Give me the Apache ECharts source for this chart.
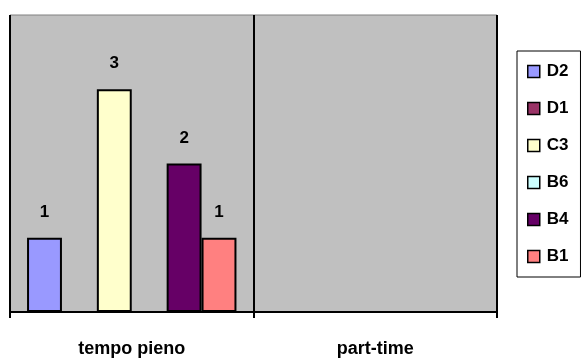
<!DOCTYPE html>
<html>
<head>
<meta charset="utf-8">
<script src="https://cdn.jsdelivr.net/npm/echarts@6/dist/echarts.min.js"></script>
<style>html,body{margin:0;padding:0;background:#fff;}#c{width:584px;height:358px;}</style>
</head>
<body>
<div id="c"></div>
<script>
var categories = ['tempo pieno', 'part-time'];
var seriesNames = ['D2', 'D1', 'C3', 'B6', 'B4', 'B1'];
var seriesColors = ['#9999FF', '#993366', '#FFFFCC', '#CCFFFF', '#660066', '#FF8080'];
var valuesD2 = [1, null];
var valuesD1 = [null, null];
var valuesC3 = [3, null];
var valuesB6 = [null, null];
var valuesB4 = [2, null];
var valuesB1 = [1, null];
var allValues = [valuesD2, valuesD1, valuesC3, valuesB6, valuesB4, valuesB1];

var font = '"Liberation Sans", Arial, sans-serif';
var chart = echarts.init(document.getElementById('c'), null, {renderer: 'canvas'});
var series = seriesNames.map(function (n, i) {
  return {
    name: n,
    type: 'bar',
    data: allValues[i],
    barGap: '0%',
    barCategoryGap: '14%',
    itemStyle: {color: seriesColors[i], borderColor: '#000', borderWidth: 2},
    label: {show: true, position: 'top', distance: 17, color: '#000', fontWeight: 'bold', fontSize: 17, fontFamily: font},
    emphasis: {disabled: true}
  };
});
chart.setOption({
  animation: false,
  grid: {left: 10, right: 87, top: 15, bottom: 46, show: true, backgroundColor: '#C0C0C0', borderColor: '#808080', borderWidth: 1},
  legend: {
    orient: 'vertical', left: 517, top: 51,
    data: seriesNames,
    padding: [12, 12, 12, 10],
    itemWidth: 12, itemHeight: 12, itemGap: 20, itemTextGap: 5,
    borderColor: '#000', borderWidth: 1,
    icon: 'rect',
    itemStyle: {borderColor: '#000', borderWidth: 1.5},
    textStyle: {fontFamily: font, fontWeight: 'bold', fontSize: 17, color: '#000', lineHeight: 15, padding: [0, 0, 0, 2]}
  },
  xAxis: {
    type: 'category', data: categories,
    axisLine: {lineStyle: {color: '#000', width: 2}},
    axisTick: {show: true, length: 6, lineStyle: {color: '#000', width: 2}},
    axisLabel: {color: '#000', fontWeight: 'bold', fontSize: 18, fontFamily: font, margin: 28},
    splitLine: {show: true, lineStyle: {color: '#000', width: 2}}
  },
  yAxis: {
    type: 'value', min: 0, max: 4, interval: 1,
    show: true,
    axisLine: {show: false}, axisTick: {show: false}, axisLabel: {show: false}, splitLine: {show: false}
  },
  series: series
});
</script>
</body>
</html>
